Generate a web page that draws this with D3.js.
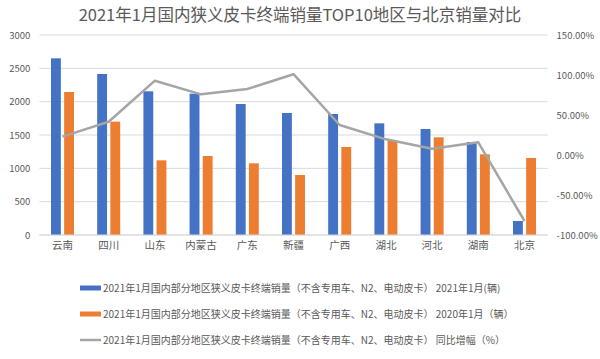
<!DOCTYPE html>
<html>
<head>
<meta charset="utf-8">
<script src="https://cdn.jsdelivr.net/npm/d3@7"></script>
<style>
  body { margin: 0; background: #fff; }
  svg text { font-family: "Noto Sans CJK SC", "Noto Sans", sans-serif; fill: #595959; }
</style>
</head>
<body>
<div id="chart"></div>
<script>
// 数据
var regions = ["云南", "四川", "山东", "内蒙古", "广东", "新疆", "广西", "湖北", "河北", "湖南", "北京"];
var sales2021 = [2650, 2415, 2155, 2120, 1965, 1830, 1815, 1675, 1590, 1395, 210];
var sales2020 = [2145, 1700, 1120, 1185, 1075, 900, 1320, 1410, 1465, 1210, 1155];
var growth = [23.0, 41.6, 92.9, 75.8, 82.5, 101.0, 37.5, 19.6, 7.9, 15.8, -82.5];
var leftTicks = [0, 500, 1000, 1500, 2000, 2500, 3000];
var rightTicks = [-100, -50, 0, 50, 100, 150];
var legendNames = [
    "2021年1月国内部分地区狭义皮卡终端销量（不含专用车、N2、电动皮卡） 2021年1月(辆)",
    "2021年1月国内部分地区狭义皮卡终端销量（不含专用车、N2、电动皮卡） 2020年1月（辆）",
    "2021年1月国内部分地区狭义皮卡终端销量（不含专用车、N2、电动皮卡） 同比增幅（%）"
];

var WIDTH = 600, HEIGHT = 359;
var PLOT_LEFT = 39.4, PLOT_RIGHT = 547.6, PLOT_TOP = 35, PLOT_BOTTOM = 235;
var BLUE = "#4472C4", ORANGE = "#ED7D31", GRAY = "#A5A5A5";

var svg = d3.select("#chart").append("svg")
    .attr("width", WIDTH)
    .attr("height", HEIGHT);

var x = d3.scaleBand().domain(regions).range([PLOT_LEFT, PLOT_RIGHT]);
var sub = d3.scaleBand().domain([0, 1]).range([-11.5, 11.5]).paddingInner(0.25);
var y = d3.scaleLinear().domain([0, 3000]).range([PLOT_BOTTOM, PLOT_TOP]);
var y2 = d3.scaleLinear().domain([-100, 150]).range([PLOT_BOTTOM, PLOT_TOP]);

// 标题
svg.append("text")
    .attr("x", 300).attr("y", 21)
    .attr("text-anchor", "middle")
    .style("font-size", "16.5px")
    .text("2021年1月国内狭义皮卡终端销量TOP10地区与北京销量对比");

// 网格线
svg.append("g").selectAll("line")
    .data(leftTicks).enter().append("line")
    .attr("x1", PLOT_LEFT).attr("x2", PLOT_RIGHT)
    .attr("y1", function (d) { return y(d); })
    .attr("y2", function (d) { return y(d); })
    .attr("stroke", "#D9D9D9")
    .attr("stroke-width", 1);

// 左轴
var yAxis = svg.append("g")
    .attr("transform", "translate(" + (PLOT_LEFT - 9) + ",0)")
    .call(d3.axisLeft(y).tickValues(leftTicks).tickSize(0).tickPadding(0)
        .tickFormat(d3.format("d")));
yAxis.select(".domain").remove();
yAxis.selectAll("text").style("font-size", "9.5px");

// 右轴
var y2Axis = svg.append("g")
    .attr("transform", "translate(" + (PLOT_RIGHT + 9) + ",0)")
    .call(d3.axisRight(y2).tickValues(rightTicks).tickSize(0).tickPadding(0)
        .tickFormat(function (d) { return d.toFixed(2) + "%"; }));
y2Axis.select(".domain").remove();
y2Axis.selectAll("text").style("font-size", "9.5px");

// 柱子
var groups = svg.append("g").selectAll("g")
    .data(regions).enter().append("g")
    .attr("transform", function (d) { return "translate(" + (x(d) + x.bandwidth() / 2) + ",0)"; });

groups.append("rect")
    .attr("x", sub(0))
    .attr("width", sub.bandwidth())
    .attr("y", function (d, i) { return y(sales2021[i]); })
    .attr("height", function (d, i) { return y(0) - y(sales2021[i]); })
    .attr("fill", BLUE);

groups.append("rect")
    .attr("x", sub(1))
    .attr("width", sub.bandwidth())
    .attr("y", function (d, i) { return y(sales2020[i]); })
    .attr("height", function (d, i) { return y(0) - y(sales2020[i]); })
    .attr("fill", ORANGE);

// 横轴
svg.append("line")
    .attr("x1", PLOT_LEFT).attr("x2", PLOT_RIGHT)
    .attr("y1", PLOT_BOTTOM).attr("y2", PLOT_BOTTOM)
    .attr("stroke", "#D9D9D9");

var xAxis = svg.append("g")
    .attr("transform", "translate(0," + PLOT_BOTTOM + ")")
    .call(d3.axisBottom(x).tickSize(0).tickPadding(7));
xAxis.select(".domain").remove();
xAxis.selectAll("text").style("font-size", "10.5px");

// 同比折线
var line = d3.line()
    .x(function (d, i) { return x(regions[i]) + x.bandwidth() / 2; })
    .y(function (d) { return y2(d); });

svg.append("path")
    .datum(growth)
    .attr("d", line)
    .attr("fill", "none")
    .attr("stroke", GRAY)
    .attr("stroke-width", 2.5)
    .attr("stroke-linejoin", "round");

// 图例
var legendY = [288, 314, 340];
var legend = svg.append("g").selectAll("g")
    .data(legendNames).enter().append("g")
    .attr("transform", function (d, i) { return "translate(80," + legendY[i] + ")"; });

legend.each(function (d, i) {
    var g = d3.select(this);
    if (i < 2) {
        g.append("rect")
            .attr("x", 0).attr("y", -2.5)
            .attr("width", 21).attr("height", 5)
            .attr("fill", i === 0 ? BLUE : ORANGE);
    } else {
        g.append("line")
            .attr("x1", 0).attr("x2", 21)
            .attr("y1", 0).attr("y2", 0)
            .attr("stroke", GRAY)
            .attr("stroke-width", 2.5);
    }
    g.append("text")
        .attr("x", 23).attr("y", 0)
        .attr("dy", "0.35em")
        .style("font-size", "10px")
        .text(d);
});
</script>
</body>
</html>
